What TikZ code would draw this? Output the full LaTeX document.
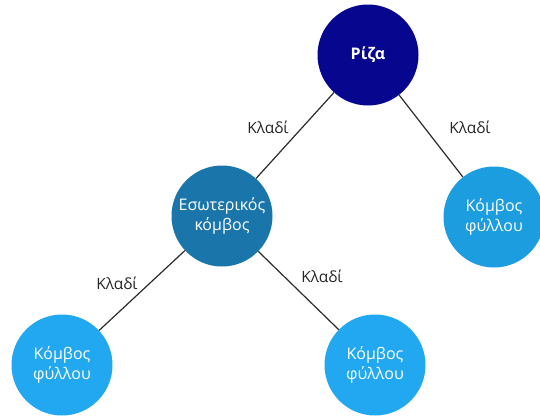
\documentclass[tikz,border=0pt]{standalone}
\usepackage{fontspec}
\setmainfont{Open Sans}
\definecolor{rootc}{HTML}{06068F}
\definecolor{innerc}{HTML}{1A76AA}
\definecolor{leafa}{HTML}{1C9DE0}
\definecolor{leafb}{HTML}{22A8F0}
\definecolor{edgec}{HTML}{2B2B2B}
\begin{document}
\begin{tikzpicture}[x=1pt,y=-1pt,
  treenode/.style={circle,minimum size=101pt,inner sep=0pt,text=white,font=\fontsize{16}{20}\selectfont,align=center},
  edge/.style={draw=edgec,line width=1.2pt},
  elabel/.style={font=\fontsize{15.5}{18}\selectfont,text=black!85}]
\useasboundingbox (0,0) rectangle (540,415);
\node[treenode,fill=rootc,font=\fontsize{16}{20}\selectfont\bfseries] (root) at (368,55) {Ρίζα};
\node[treenode,fill=innerc] (inner) at (222,216) {Εσωτερικός\\κόμβος};
\node[treenode,fill=leafa] (leafr) at (494,217) {Κόμβος\\φύλλου};
\node[treenode,fill=leafb] (leafbl) at (62,365) {Κόμβος\\φύλλου};
\node[treenode,fill=leafb] (leafbr) at (375,365) {Κόμβος\\φύλλου};
\node[elabel] (l1) at (268,127) {Κλαδί};
\node[elabel] (l2) at (470,127) {Κλαδί};
\node[elabel] (l3) at (117,283) {Κλαδί};
\node[elabel] (l4) at (322,276) {Κλαδί};
\draw[edge] (root) -- (inner);
\draw[edge] (root) -- (leafr);
\draw[edge] (inner) -- (leafbl);
\draw[edge] (inner) -- (leafbr);
\end{tikzpicture}
\end{document}
